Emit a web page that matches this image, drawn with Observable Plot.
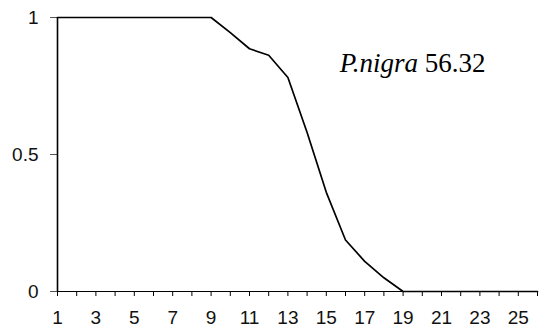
<!DOCTYPE html>
<html>
<head>
<meta charset="utf-8">
<script src="https://cdn.jsdelivr.net/npm/d3@7"></script>
<script src="https://cdn.jsdelivr.net/npm/@observablehq/plot@0.6"></script>
<style>
  html, body { margin: 0; padding: 0; background: #fff; }
  #chart svg { display: block; }
</style>
</head>
<body>
<div id="chart"></div>
<script>
// Diameter classes along the x axis
const classes = [1, 2, 3, 4, 5, 6, 7, 8, 9, 10, 11, 12, 13, 14, 15, 16, 17, 18, 19, 20, 21, 22, 23, 24, 25, 26];
// Proportion surviving in each class
const proportion = [1, 1, 1, 1, 1, 1, 1, 1, 1, 0.945, 0.886, 0.862, 0.781, 0.58, 0.362, 0.188, 0.11, 0.05, 0, 0, 0, 0, 0, 0, 0, 0];
// Tick values
const xTicks = classes;
const yTicks = [0, 0.5, 1];
// Annotation
const speciesName = "P.nigra";
const speciesValue = "56.32";

const rows = classes.map((c, i) => ({c, p: proportion[i]}));
const sans = "'Liberation Sans', Arial, sans-serif";
const tickFont = 19;

const chart = Plot.plot({
  width: 541,
  height: 333,
  marginLeft: 57,
  marginRight: 4,
  marginTop: 17,
  marginBottom: 42,
  style: {fontFamily: sans, fontSize: `${tickFont}px`, color: "#111", background: "#fff"},
  x: {domain: [1, 26], label: null},
  y: {domain: [0, 1], label: null},
  marks: [
    Plot.axisX({ticks: xTicks, tickSize: 5, tickPadding: 14, fontSize: tickFont,
                tickFormat: d => (d % 2 === 1 ? String(d) : ""), label: null, stroke: "#000"}),
    Plot.axisY({ticks: yTicks, tickSize: 7, tickPadding: 12, fontSize: tickFont,
                tickFormat: d => String(d), label: null, stroke: "#555"}),
    Plot.ruleY([0], {stroke: "#000", strokeWidth: 1.2}),
    Plot.ruleX([1], {stroke: "#000", strokeWidth: 1.6}),
    Plot.line(rows, {x: "c", y: "p", stroke: "#000", strokeWidth: 1.7}),
    Plot.text([`${speciesName} ${speciesValue}`], {
      frameAnchor: "top-right", textAnchor: "end", lineAnchor: "top",
      dx: -52, dy: 35, fontSize: 27, fill: "#000",
      fontFamily: "'Liberation Serif', 'Times New Roman', serif"
    })
  ]
});

// Axis tick labels share one size
d3.select(chart).selectAll("[aria-label$='tick label'] text, [aria-label$='-axis'] text")
  .attr("font-size", tickFont).style("font-size", `${tickFont}px`);

// Italicise the species name inside the annotation
d3.select(chart).selectAll("text").filter(function () {
  return this.textContent === `${speciesName} ${speciesValue}`;
}).each(function () {
  const t = d3.select(this);
  t.text(null);
  t.append("tspan").attr("font-style", "italic").text(speciesName);
  t.append("tspan").text(" " + speciesValue);
});

document.getElementById("chart").appendChild(chart);
</script>
</body>
</html>
